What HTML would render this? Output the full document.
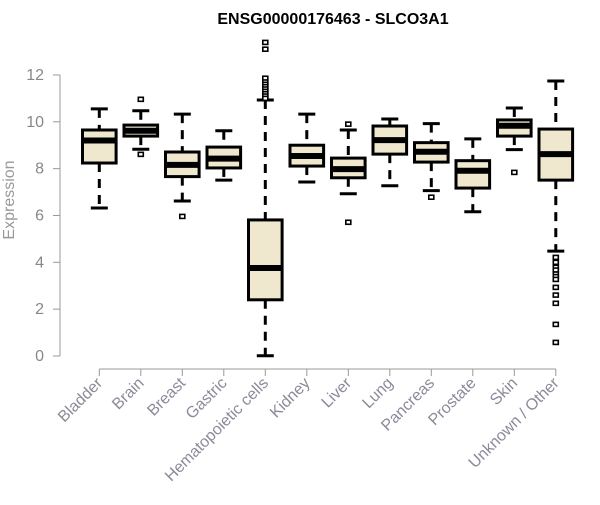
<!DOCTYPE html>
<html><head><meta charset="utf-8"><style>
body{margin:0;background:#fff;}
svg text{font-family:"Liberation Sans",sans-serif;}
</style></head><body>
<svg id="chart" width="600" height="500">
<text x="333" y="24" text-anchor="middle" font-weight="bold" font-size="16">ENSG00000176463 - SLCO3A1</text>
<text transform="translate(14,200) rotate(-90)" text-anchor="middle" font-size="16" fill="#999">Expression</text>
<g id="yaxis"></g>
<g id="xaxis"></g>
<g id="boxes"></g>
</svg>
<script>
const categories=["Bladder","Brain","Breast","Gastric","Hematopoietic cells","Kidney","Liver","Lung","Pancreas","Prostate","Skin","Unknown / Other"];
const lowWhisker=[6.32,8.83,6.62,7.51,0.01,7.43,6.93,7.27,7.06,6.16,8.81,4.48];
const q1=[8.24,9.39,7.66,8.03,2.40,8.11,7.61,8.62,8.28,7.17,9.39,7.51];
const medians=[9.2,9.62,8.16,8.43,3.76,8.54,7.98,9.22,8.72,7.91,9.83,8.62];
const q3=[9.65,9.86,8.71,8.92,5.81,9.0,8.45,9.82,9.11,8.34,10.08,9.69];
const highWhisker=[10.55,10.47,10.33,9.62,10.93,10.33,9.65,10.12,9.92,9.27,10.59,11.74];
const outliers=[[],[10.96,8.61],[5.96],[],[13.39,13.1,11.86,11.7,11.6,11.5,11.4,11.3,11.2,11.1,11.0],[],[9.9,5.71],[],[6.78],[],[7.84],[4.21,4.0,3.79,3.67,3.5,3.39,3.27,2.93,2.6,2.25,1.35,0.58]];
const yTicks=[0,2,4,6,8,10,12];

const NS="http://www.w3.org/2000/svg";
const y=v=>356-23.42*v;
const x=i=>99.3+i*41.5;
function mk(tag,attrs,parent){const e=document.createElementNS(NS,tag);for(const k in attrs)e.setAttribute(k,attrs[k]);parent.appendChild(e);return e;}
const ya=document.getElementById('yaxis'),xa=document.getElementById('xaxis'),bx=document.getElementById('boxes');
let l=mk('line',{x1:60,x2:60,y1:y(12),y2:y(0),stroke:'#999','stroke-width':1},ya);


yTicks.forEach(t=>{
 let tk=mk('line',{x1:53,x2:60,y1:y(t),y2:y(t),stroke:'#999'},ya);
 
 
 let tx=mk('text',{x:44,y:y(t)+5,'text-anchor':'end','font-size':16,fill:'#888'},ya);
 tx.textContent=t;
 
 
});
let xl=mk('line',{x1:x(0),x2:x(categories.length-1),y1:369,y2:369,stroke:'#999'},xa);


const hw=16.8;
categories.forEach((c,i)=>{
 const cx=x(i);
 let tk=mk('line',{x1:cx,x2:cx,y1:369,y2:376,stroke:'#999'},xa);
 
 
 let tx=mk('text',{x:cx+4,y:384,'text-anchor':'end','font-size':16,fill:'#8a8a9a',transform:`rotate(-45 ${cx+4} 384)`},xa);
 tx.textContent=c;
 
 
 const g=mk('g',{},bx);
 
 
 mk('line',{x1:cx,x2:cx,y1:y(highWhisker[i]),y2:y(q3[i]),stroke:'#000','stroke-width':3,'stroke-dasharray':'9,7'},g);
 mk('line',{x1:cx,x2:cx,y1:y(q1[i]),y2:y(lowWhisker[i]),stroke:'#000','stroke-width':3,'stroke-dasharray':'9,7'},g);
 mk('line',{x1:cx-8.5,x2:cx+8.5,y1:y(highWhisker[i]),y2:y(highWhisker[i]),stroke:'#000','stroke-width':3},g);
 mk('line',{x1:cx-8.5,x2:cx+8.5,y1:y(lowWhisker[i]),y2:y(lowWhisker[i]),stroke:'#000','stroke-width':3},g);
 mk('rect',{x:cx-hw,y:y(q3[i]),width:2*hw,height:y(q1[i])-y(q3[i]),fill:'#efe8cf',stroke:'#000','stroke-width':3},g);
 mk('line',{x1:cx-hw,x2:cx+hw,y1:y(medians[i]),y2:y(medians[i]),stroke:'#000','stroke-width':6},g);
 outliers[i].forEach(o=>{
  let p=mk('rect',{x:cx-2.5,y:y(o)-2,width:5,height:4,fill:'#fff',stroke:'#000','stroke-width':1.6},g);
  
  
 });
});
</script>
</body></html>
